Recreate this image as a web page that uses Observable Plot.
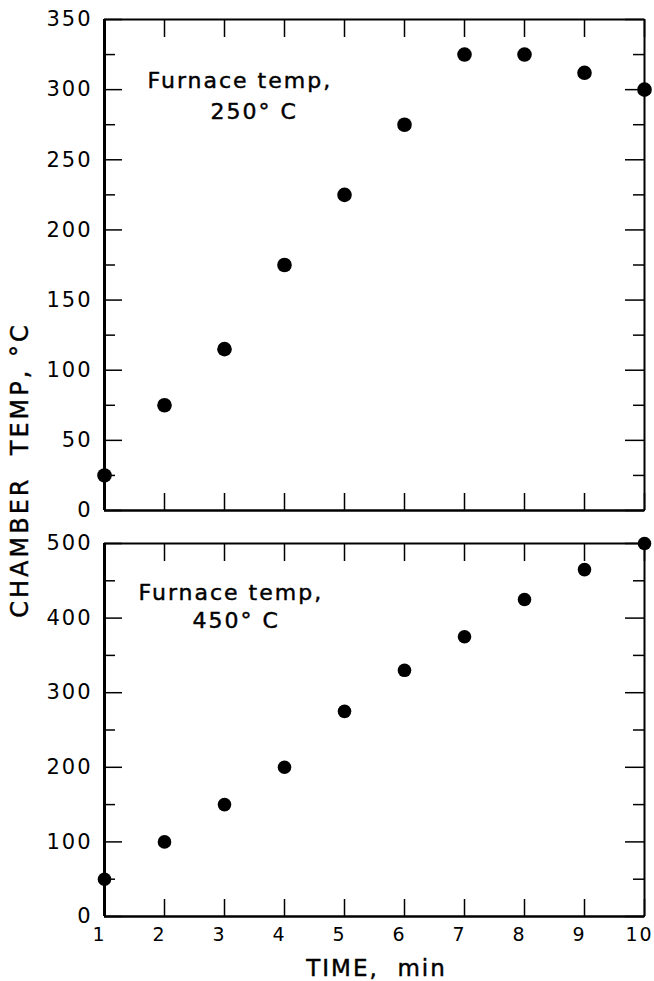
<!DOCTYPE html>
<html>
<head>
<meta charset="utf-8">
<script src="https://cdn.jsdelivr.net/npm/d3@7"></script>
<script src="https://cdn.jsdelivr.net/npm/@observablehq/plot@0.6"></script>
<style>
  html, body { margin: 0; padding: 0; background: white; }
  #wrap { position: relative; width: 654px; height: 981px; overflow: hidden; font-family: "DejaVu Sans", sans-serif; }
  #top { position: absolute; left: 0; top: 0; }
  #bot { position: absolute; left: 0; top: 530px; }
  #ylabel { position: absolute; left: 20px; top: 470px; transform: translate(-50%, -50%) rotate(-90deg); white-space: pre; font-size: 24px; letter-spacing: 3px; color: black; -webkit-text-stroke: 0.4px black; }
</style>
</head>
<body>
<div id="wrap">
  <div id="top"></div>
  <div id="bot"></div>
  <div id="ylabel">CHAMBER  TEMP, °C</div>
</div>
<script>
// Data
const time = [1, 2, 3, 4, 5, 6, 7, 8, 9, 10];
const temp250 = [25, 75, 115, 175, 225, 275, 325, 325, 312, 300];
const temp450 = [50, 100, 150, 200, 275, 330, 375, 425, 465, 500];
const xTicks = [1, 2, 3, 4, 5, 6, 7, 8, 9, 10];
const topMajor = [0, 50, 100, 150, 200, 250, 300, 350];
const topMinor = [25, 75, 125, 175, 225, 275, 325];
const botMajor = [0, 100, 200, 300, 400, 500];
const botMinor = [50, 150, 250, 350, 450];
const topNote = ["Furnace temp,", "250° C"];
const botNote = ["Furnace temp,", "450° C"];
const xLabel = "TIME,  min";

const rows250 = time.map((t, i) => ({t, v: temp250[i]}));
const rows450 = time.map((t, i) => ({t, v: temp450[i]}));
const blank = () => "";
const heavy = {stroke: "black", strokeWidth: 0.45};

function panel({rows, yDomain, major, minor, note, noteOffsets, height, marginTop, marginBottom, bottomLabels, r}) {
  const marks = [
    // left tick labels
    Plot.axisY({anchor: "left", ticks: major, tickSize: 0, tickPadding: 12, label: null, fontSize: 21, letterSpacing: "2.5px", ...heavy}),
    // inward ticks
    Plot.axisY({anchor: "left", ticks: major, tickSize: -18, tickFormat: blank, label: null, strokeWidth: 1.5}),
    Plot.axisY({anchor: "left", ticks: minor, tickSize: -11, tickFormat: blank, label: null, strokeWidth: 1.5}),
    Plot.axisY({anchor: "right", ticks: major, tickSize: -20, tickFormat: blank, label: null, strokeWidth: 1.5}),
    Plot.axisY({anchor: "right", ticks: minor, tickSize: -12, tickFormat: blank, label: null, strokeWidth: 1.5}),
    Plot.axisX({anchor: "top", ticks: xTicks, tickSize: -17, tickFormat: blank, label: null, strokeWidth: 1.5}),
    Plot.axisX({anchor: "bottom", ticks: xTicks, tickSize: -17, tickFormat: blank, label: null, strokeWidth: 1.5}),
    // frame
    Plot.ruleX([time[0]], {stroke: "black", strokeWidth: 3}),
    Plot.ruleX([time[time.length - 1]], {stroke: "black", strokeWidth: 2}),
    Plot.ruleY([yDomain[0]], {stroke: "black", strokeWidth: 2.5}),
    Plot.ruleY([yDomain[1]], {stroke: "black", strokeWidth: 2}),
    // data
    Plot.dot(rows, {x: "t", y: "v", r, fill: "black", stroke: null}),
    // annotation
    Plot.text([note[0]], {frameAnchor: "top-left", textAnchor: "start", lineAnchor: "middle", dx: noteOffsets[0][0], dy: noteOffsets[0][1], fontSize: 22, fill: "black", letterSpacing: "0.8px", ...heavy}),
    Plot.text([note[1]], {frameAnchor: "top-left", textAnchor: "start", lineAnchor: "middle", dx: noteOffsets[1][0], dy: noteOffsets[1][1], fontSize: 22, fill: "black", letterSpacing: "0.8px", ...heavy})
  ];
  if (bottomLabels) {
    marks.push(Plot.axisX({anchor: "bottom", ticks: xTicks, tickSize: 0, tickPadding: 11, label: null, fontSize: 19, letterSpacing: "0px", dx: -5, ...heavy}));
    marks.push(Plot.text([xLabel], {frameAnchor: "bottom", lineAnchor: "middle", dy: 52, dx: 2, fontSize: 23, fill: "black", ...heavy}));
  }
  return Plot.plot({
    width: 654,
    height,
    marginLeft: 104,
    marginRight: 10,
    marginTop,
    marginBottom,
    x: {domain: [time[0], time[time.length - 1]]},
    y: {domain: yDomain},
    style: {fontFamily: "DejaVu Sans, sans-serif", fontSize: "20px", color: "black", background: "transparent", letterSpacing: "2px", overflow: "visible"},
    marks
  });
}

document.getElementById("top").append(panel({
  rows: rows250, yDomain: [0, 350], major: topMajor, minor: topMinor, note: topNote,
  noteOffsets: [[43, 61], [106, 92]], height: 530, marginTop: 19, marginBottom: 20, bottomLabels: false, r: 7.3
}));
document.getElementById("bot").append(panel({
  rows: rows450, yDomain: [0, 500], major: botMajor, minor: botMinor, note: botNote,
  noteOffsets: [[34, 49], [88, 77]], height: 451, marginTop: 13, marginBottom: 65, bottomLabels: true, r: 6.8
}));
</script>
</body>
</html>
